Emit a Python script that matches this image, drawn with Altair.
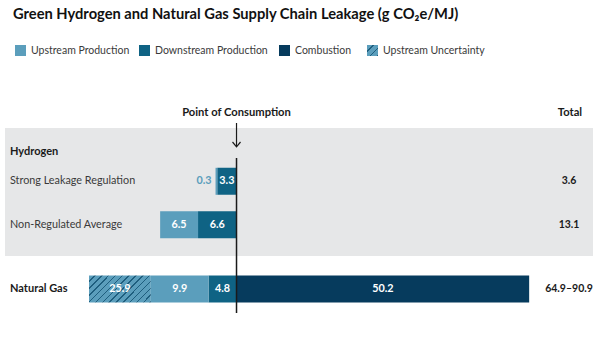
import altair as alt
import pandas as pd

# ---------------- data ----------------
series_names = ["Upstream Production", "Downstream Production", "Combustion", "Upstream Uncertainty"]
series_colors = ["#5B9EBC", "#0F6384", "#063B5D", "#5B9EBC"]

hydrogen_rows = ["Strong Leakage Regulation", "Non-Regulated Average"]
hydrogen_upstream = [0.3, 6.5]
hydrogen_downstream = [3.3, 6.6]
hydrogen_totals = ["3.6", "13.1"]

gas_rows = ["Natural Gas"]
gas_uncertainty = [25.9]
gas_uncertainty_drawn = [10.6]   # the reference draws this segment truncated
gas_upstream = [9.9]
gas_downstream = [4.8]
gas_combustion = [50.2]
gas_totals = ["64.9–90.9"]

title_text = "Green Hydrogen and Natural Gas Supply Chain Leakage (g CO₂e/MJ)"

# ---------------- style ----------------
FONT = "Lato"
LIGHT = series_colors[0]
HATCH_DARK = "#1E5E7E"
TEXT_DARK = "#1a1a1a"
TEXT_MID = "#3a3a3a"
BG = "#E6E7E8"


def segments(rows, upstream, downstream, combustion=None, unc=None, unc_drawn=None):
    out = []
    for i, r in enumerate(rows):
        d, u = downstream[i], upstream[i]
        out.append(dict(row=r, series="Downstream Production", start=-d, end=0.0, value=d))
        out.append(dict(row=r, series="Upstream Production", start=-(d + u), end=-d, value=u))
        if unc is not None:
            out.append(dict(row=r, series="Upstream Uncertainty",
                            start=-(d + u + unc_drawn[i]), end=-(d + u), value=unc[i]))
        if combustion is not None:
            out.append(dict(row=r, series="Combustion", start=0.0, end=combustion[i], value=combustion[i]))
    df = pd.DataFrame(out)
    df["mid"] = (df["start"] + df["end"]) / 2
    df["width"] = df["end"] - df["start"]
    df["label"] = df["value"].map(lambda v: f"{v:.1f}")
    return df


def stripes(n, x2, y2, frac=0.22):
    stops = []
    for k in range(n):
        a, b, c = k / n, (k + 1 - frac) / n, (k + 1) / n
        stops += [alt.GradientStop(offset=a, color=LIGHT), alt.GradientStop(offset=b, color=LIGHT),
                  alt.GradientStop(offset=b, color=HATCH_DARK), alt.GradientStop(offset=c, color=HATCH_DARK)]
    return alt.LinearGradient(gradient="linear", stops=stops, x1=0, y1=0, x2=x2, y2=y2)


bar_hatch = stripes(13, 1.207, 0.525)
swatch_hatch = stripes(3, 1, 1)

xscale = alt.Scale(domain=[-40.57, 62.35], nice=False, zero=False)
color = alt.Color("series:N", scale=alt.Scale(domain=series_names, range=series_colors), legend=None)


def group(df, rows, totals, yrange, bold):
    y = alt.Y("row:N", scale=alt.Scale(domain=rows, range=yrange, paddingInner=0, paddingOuter=0),
              axis=None)
    base = alt.Chart(df)
    solid = base.transform_filter(alt.datum.series != "Upstream Uncertainty").mark_bar(size=27).encode(
        x=alt.X("start:Q", scale=xscale, axis=None), x2="end:Q", y=y, color=color)
    hatch = base.transform_filter(alt.datum.series == "Upstream Uncertainty").mark_bar(
        size=27, fill=bar_hatch).encode(
        x=alt.X("start:Q", scale=xscale, axis=None), x2="end:Q", y=y)
    inside = base.transform_filter(alt.datum.width >= 2).mark_text(
        color="white", fontWeight="bold", fontSize=10.8).encode(
        x=alt.X("mid:Q", scale=xscale, axis=None), y=y, text="label:N")
    outside = base.transform_filter(alt.datum.width < 2).mark_text(
        color=LIGHT, fontWeight="bold", fontSize=10.8, align="right", dx=-4).encode(
        x=alt.X("start:Q", scale=xscale, axis=None), y=y, text="label:N")
    rdf = pd.DataFrame({"row": rows, "total": totals})
    rlab = alt.Chart(rdf).mark_text(
        align="left", fontSize=11 if bold else 10.8, color=TEXT_DARK if bold else TEXT_MID,
        fontWeight="bold" if bold else "normal").encode(
        x=alt.value(10), y=y, text="row:N")
    tot = alt.Chart(rdf).mark_text(align="center", fontSize=10.5, fontWeight="bold", color=TEXT_DARK).encode(
        x=alt.value(569), y=y, text="total:N")
    return alt.layer(solid, hatch, inside, outside, rlab, tot)


hyd = group(segments(hydrogen_rows, hydrogen_upstream, hydrogen_downstream),
            hydrogen_rows, hydrogen_totals, [159.6, 246.4], False)
gas = group(segments(gas_rows, gas_upstream, gas_downstream, gas_combustion, gas_uncertainty, gas_uncertainty_drawn),
            gas_rows, gas_totals, [267.3, 310.7], True)

one = pd.DataFrame({"k": [0]})

bg = alt.Chart(one).mark_rect(color=BG).encode(
    x=alt.value(5), x2=alt.value(593), y=alt.value(128), y2=alt.value(256))

consumption = alt.Chart(one).mark_rule(color=TEXT_DARK, strokeWidth=1.5).encode(
    x=alt.X(datum=0, type="quantitative", scale=xscale, axis=None), y=alt.value(158), y2=alt.value(313))
arrow_shaft = alt.Chart(one).mark_rule(color=TEXT_DARK, strokeWidth=1.2).encode(
    x=alt.X(datum=0, type="quantitative", scale=xscale, axis=None), y=alt.value(123), y2=alt.value(146))
arrow_head = alt.Chart(one).mark_point(
    shape="M-1,-0.6L0,0.6L1,-0.6", filled=False, size=64, color=TEXT_DARK, strokeWidth=1.2, opacity=1).encode(
    x=alt.X(datum=0, type="quantitative", scale=xscale, axis=None), y=alt.value(144.4))

poc = alt.Chart(one).mark_text(text="Point of Consumption", fontSize=11.2, fontWeight="bold",
                               color=TEXT_DARK, align="center").encode(
    x=alt.X(datum=0, type="quantitative", scale=xscale, axis=None), y=alt.value(113))
total_head = alt.Chart(one).mark_text(text="Total", fontSize=11.2, fontWeight="bold",
                                      color=TEXT_DARK, align="center").encode(
    x=alt.value(570), y=alt.value(113))
hyd_head = alt.Chart(one).mark_text(text="Hydrogen", fontSize=11, fontWeight="bold",
                                    color=TEXT_DARK, align="left").encode(
    x=alt.value(10), y=alt.value(152))

title = alt.Chart(one).mark_text(text=title_text, fontSize=14.7, fontWeight="bold", color="#111111",
                                 align="left", baseline="alphabetic").encode(
    x=alt.value(13), y=alt.value(18.5))

legend_layers = []
swatch_x = [15, 139, 279, 367]
for i, name in enumerate(series_names):
    fill = swatch_hatch if name == "Upstream Uncertainty" else series_colors[i]
    legend_layers.append(alt.Chart(one).mark_rect(fill=fill).encode(
        x=alt.value(swatch_x[i]), x2=alt.value(swatch_x[i] + 11), y=alt.value(45), y2=alt.value(56)))
    legend_layers.append(alt.Chart(one).mark_text(text=name, fontSize=10.5, color=TEXT_MID, align="left").encode(
        x=alt.value(swatch_x[i] + 16), y=alt.value(50.5)))

chart = alt.layer(bg, hyd, gas, consumption, arrow_shaft, arrow_head, poc, total_head, hyd_head, title,
                  *legend_layers).resolve_scale(y="independent").properties(
    width=600, height=342, padding=0, autosize=alt.AutoSizeParams(type="none")
).configure(font=FONT).configure_view(strokeWidth=0)

chart.save("out.html", embed_options={"renderer": "svg", "actions": False})
